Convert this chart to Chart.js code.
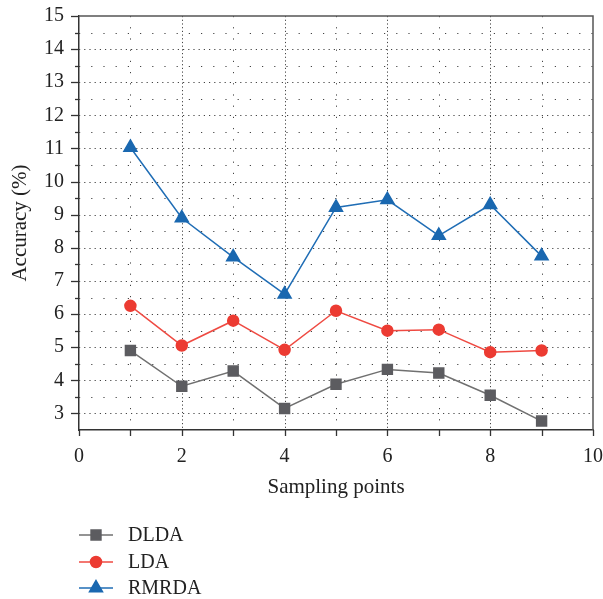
<!DOCTYPE html>
<html>
<head>
<meta charset="utf-8">
<script src="https://cdn.jsdelivr.net/npm/chart.js@4/dist/chart.umd.min.js"></script>
<style>
  html, body { margin: 0; padding: 0; background: #fff; }
  #wrap { width: 603px; height: 599px; }
</style>
</head>
<body>
<div id="wrap"><canvas id="chart" width="603" height="599"></canvas></div>
<script>
// values
const samplingPoints = [1, 2, 3, 4, 5, 6, 7, 8, 9];
const dlda  = [4.9, 3.82, 4.28, 3.15, 3.88, 4.33, 4.22, 3.55, 2.77];
const lda   = [6.25, 5.05, 5.8, 4.92, 6.1, 5.5, 5.53, 4.85, 4.9];
const rmrda = [11.03, 8.9, 7.72, 6.6, 9.22, 9.45, 8.37, 9.3, 7.75];

const seriesNames = ["DLDA", "LDA", "RMRDA"];
const xLabels = [0, 2, 4, 6, 8, 10];
const yLabels = [3, 4, 5, 6, 7, 8, 9, 10, 11, 12, 13, 14, 15];

const FONT = "'Liberation Serif', 'DejaVu Serif', serif";
const AXIS = "#333";

const toPoints = (vals) => samplingPoints.map((x, i) => ({ x: x, y: vals[i] }));

// dotted grid, tick marks, frame and the stacked legend
const extras = {
  id: "extras",
  beforeDatasetsDraw(chart) {
    const { ctx, chartArea: a, scales: { x, y } } = chart;
    ctx.save();
    ctx.strokeStyle = "#444";
    ctx.lineWidth = 1;
    // horizontal lines
    for (let v = 3; v <= 14.5; v += 0.5) {
      const py = Math.round(y.getPixelForValue(v)) + 0.5;
      ctx.setLineDash(Number.isInteger(v) ? [1.2, 4] : [1.2, 11]);
      ctx.beginPath(); ctx.moveTo(a.left, py); ctx.lineTo(a.right, py); ctx.stroke();
    }
    // vertical lines
    for (let v = 1; v <= 9; v++) {
      const px = Math.round(x.getPixelForValue(v)) + 0.5;
      ctx.setLineDash(v % 2 === 0 ? [1.2, 2.5] : [1.2, 10]);
      ctx.beginPath(); ctx.moveTo(px, a.top); ctx.lineTo(px, a.bottom); ctx.stroke();
    }
    ctx.setLineDash([]);
    // frame top / right
    ctx.strokeStyle = "#555";
    ctx.lineWidth = 1.5;
    ctx.beginPath();
    ctx.moveTo(a.left, a.top); ctx.lineTo(a.right, a.top); ctx.lineTo(a.right, a.bottom);
    ctx.stroke();
    // tick marks
    ctx.strokeStyle = AXIS;
    ctx.lineWidth = 1.3;
    for (let v = 3; v <= 15; v += 0.5) {
      const py = Math.round(y.getPixelForValue(v)) + 0.5;
      const len = Number.isInteger(v) ? 8 : 4;
      ctx.beginPath(); ctx.moveTo(a.left - len, py); ctx.lineTo(a.left, py); ctx.stroke();
    }
    for (let v = 0; v <= 10; v++) {
      const px = Math.round(x.getPixelForValue(v)) + 0.5;
      ctx.beginPath(); ctx.moveTo(px, a.bottom); ctx.lineTo(px, a.bottom + 6); ctx.stroke();
    }
    ctx.restore();
  },
  afterDraw(chart) {
    const { ctx } = chart;
    const rows = [535, 562, 588];
    ctx.save();
    chart.data.datasets.forEach((ds, i) => {
      const yy = rows[i];
      ctx.strokeStyle = ds.borderColor;
      ctx.lineWidth = 1.5;
      ctx.beginPath(); ctx.moveTo(79, yy); ctx.lineTo(113, yy); ctx.stroke();
      ctx.fillStyle = ds.pointBackgroundColor;
      ctx.strokeStyle = ds.pointBackgroundColor;
      Chart.helpers.drawPoint(ctx, {
        pointStyle: ds.pointStyle, radius: ds.pointRadius, rotation: 0, borderWidth: 1
      }, 96, yy);
      ctx.fillStyle = "#222";
      ctx.font = "20px " + FONT;
      ctx.textBaseline = "middle";
      ctx.textAlign = "left";
      ctx.fillText(ds.label, 128, yy + 1);
    });
    ctx.restore();
  }
};

new Chart(document.getElementById("chart"), {
  type: "line",
  data: {
    datasets: [
      {
        label: seriesNames[0],
        data: toPoints(dlda),
        borderColor: "#707070",
        borderWidth: 1.5,
        pointStyle: "rect",
        pointRadius: 7,
        pointBackgroundColor: "#5c5c60",
        pointBorderColor: "#5c5c60",
        tension: 0
      },
      {
        label: seriesNames[1],
        data: toPoints(lda),
        borderColor: "#ef4a42",
        borderWidth: 1.5,
        pointStyle: "circle",
        pointRadius: 5.5,
        pointBackgroundColor: "#ec3b32",
        pointBorderColor: "#ec3b32",
        tension: 0
      },
      {
        label: seriesNames[2],
        data: toPoints(rmrda),
        borderColor: "#1f6db5",
        borderWidth: 1.5,
        pointStyle: "triangle",
        pointRadius: 7.5,
        pointBackgroundColor: "#1a68b0",
        pointBorderColor: "#1a68b0",
        tension: 0
      }
    ]
  },
  options: {
    responsive: false,
    animation: false,
    layout: { padding: { top: 16, right: 10, bottom: 99, left: 0 } },
    plugins: { legend: { display: false }, tooltip: { enabled: false } },
    scales: {
      x: {
        type: "linear",
        min: 0,
        max: 10,
        afterFit: (s) => { s.height = 70; s.paddingLeft = 0; s.paddingRight = 0; },
        ticks: {
          stepSize: 1,
          autoSkip: false,
          maxRotation: 0,
          padding: 15,
          color: "#222",
          font: { family: FONT, size: 20 },
          callback: (v) => (xLabels.includes(v) ? String(v) : "")
        },
        grid: { drawOnChartArea: false, drawTicks: false },
        border: { display: true, color: AXIS, width: 1.5 },
        title: {
          display: true,
          text: "Sampling points",
          color: "#222",
          font: { family: FONT, size: 21 },
          padding: { top: 0, bottom: 0 }
        }
      },
      y: {
        min: 2.5,
        max: 15,
        afterFit: (s) => { s.width = 79; s.paddingTop = 0; s.paddingBottom = 0; },
        ticks: {
          stepSize: 0.5,
          autoSkip: false,
          padding: 15,
          color: "#222",
          font: { family: FONT, size: 20 },
          callback: (v) => (yLabels.includes(v) ? String(v) : "")
        },
        grid: { drawOnChartArea: false, drawTicks: false },
        border: { display: true, color: AXIS, width: 1.5 },
        title: {
          display: true,
          text: "Accuracy (%)",
          color: "#222",
          font: { family: FONT, size: 21 },
          padding: { top: 8, bottom: 0 }
        }
      }
    }
  },
  plugins: [extras]
});
</script>
</body>
</html>
